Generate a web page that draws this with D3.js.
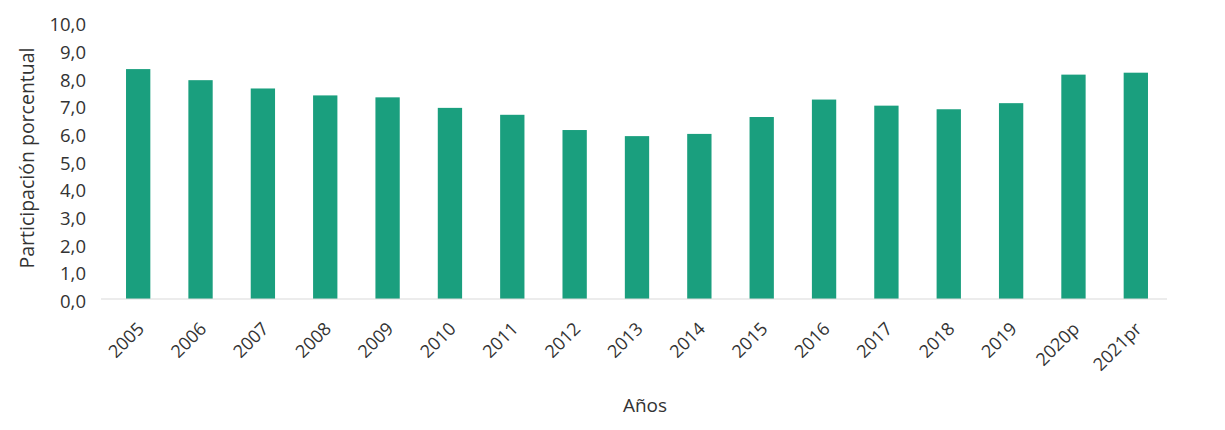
<!DOCTYPE html>
<html>
<head>
<meta charset="utf-8">
<script src="https://cdn.jsdelivr.net/npm/d3@7"></script>
<style>
  html, body { margin: 0; padding: 0; background: #ffffff; }
  svg text { font-family: "Open Sans", "Noto Sans", sans-serif; fill: #333333; }
</style>
</head>
<body>
<svg id="chart" width="1225" height="430"></svg>
<script>
const categories = ["2005","2006","2007","2008","2009","2010","2011","2012","2013","2014","2015","2016","2017","2018","2019","2020p","2021pr"];
const values = [8.3, 7.9, 7.6, 7.35, 7.28, 6.9, 6.65, 6.1, 5.88, 5.96, 6.57, 7.2, 6.98, 6.85, 7.07, 8.1, 8.17];
const yTicks = [0,1,2,3,4,5,6,7,8,9,10];
const yTitle = "Participación porcentual";
const xTitle = "Años";

const svg = d3.select("#chart");
const x = d3.scaleBand().domain(categories).range([107, 1167]).paddingInner(0.61).paddingOuter(0.305);
const y = d3.scaleLinear().domain([0, 10]).range([299, 22]);
const fmt = d => d.toFixed(1).replace(".", ",");

// bars
svg.append("g").selectAll("rect").data(values).join("rect")
  .attr("x", (d, i) => x(categories[i]))
  .attr("width", x.bandwidth())
  .attr("y", d => y(d))
  .attr("height", d => y(0) - y(d))
  .attr("fill", "#1a9f7e");

// baseline
svg.append("line")
  .attr("x1", 101).attr("x2", 1167)
  .attr("y1", y(0)).attr("y2", y(0))
  .attr("stroke", "#d9d9d9").attr("stroke-width", 1);

// y axis labels
const yAxis = d3.axisLeft(y).tickValues(yTicks).tickFormat(fmt).tickSize(0).tickPadding(0);
const gy = svg.append("g").attr("transform", "translate(86,0)").call(yAxis);
gy.select(".domain").remove();
gy.selectAll("text").style("font-size", "18.5px").attr("fill", "#333333").attr("dy", "0.36em")
  .attr("y", 2);

// x axis labels
const xAxis = d3.axisBottom(x).tickSize(0).tickPadding(0);
const gx = svg.append("g").attr("transform", `translate(0,${y(0)})`).call(xAxis);
gx.select(".domain").remove();
gx.selectAll("text")
  .style("font-size", "18px")
  .attr("fill", "#333333")
  .style("text-anchor", "end")
  .attr("dy", "0")
  .attr("transform", "translate(7,31) rotate(-45)")
  .attr("x", 0).attr("y", 0);

// titles
svg.append("text")
  .attr("transform", "translate(34,158) rotate(-90)")
  .attr("text-anchor", "middle")
  .style("font-size", "19.5px")
  .text(yTitle);

svg.append("text")
  .attr("x", 645).attr("y", 412)
  .attr("text-anchor", "middle")
  .style("font-size", "19px")
  .text(xTitle);
</script>
</body>
</html>
